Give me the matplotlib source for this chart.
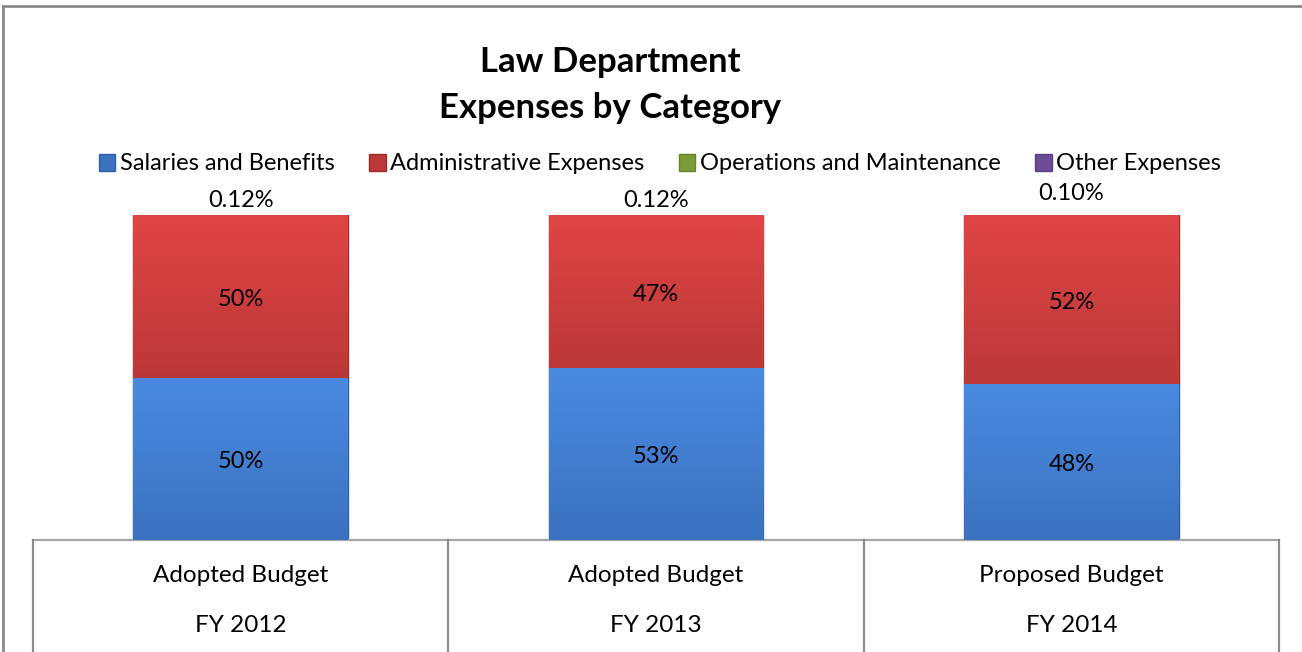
import matplotlib
matplotlib.use("Agg")
import matplotlib.pyplot as plt
import numpy as np
from matplotlib.colors import LinearSegmentedColormap
from matplotlib.lines import Line2D
from matplotlib.patches import Patch
from matplotlib.transforms import blended_transform_factory

plt.rcParams["font.family"] = ["Lato", "DejaVu Sans"]

budgets = ["Adopted Budget", "Adopted Budget", "Proposed Budget"]
years = ["FY 2012", "FY 2013", "FY 2014"]
series_names = ["Salaries and Benefits", "Administrative Expenses",
                "Operations and Maintenance", "Other Expenses"]
salaries = [49.9, 52.9, 47.9]
administrative = [49.98, 46.98, 52.0]
operations = [0.0, 0.0, 0.0]
other = [0.12, 0.12, 0.10]

# (top of gradient, bottom of gradient, edge)
colors = {
    "Salaries and Benefits": ("#4a8ae0", "#3b72c0", "#2f5f9f"),
    "Administrative Expenses": ("#e04545", "#bc3838", "#9c2c2c"),
    "Operations and Maintenance": ("#9bc04a", "#7a9c38", "#66842c"),
    "Other Expenses": ("#8a64b8", "#6c4c96", "#5a3e80"),
}

W, H = 1302, 652
fig = plt.figure(figsize=(W / 100, H / 100), dpi=100)
ax = fig.add_axes([33 / W, (H - 540) / H, (1279 - 33) / W, (540 - 215) / H])

x = np.arange(len(years))
bar_width = 0.517
bottom = np.zeros(len(years))
stacks = [salaries, administrative, operations, other]
containers = []
for name, values in zip(series_names, stacks):
    top_c, bot_c, edge_c = colors[name]
    bars = ax.bar(x, values, bar_width, bottom=bottom, color=bot_c,
                  edgecolor=edge_c, linewidth=1.0, zorder=2)
    cmap = LinearSegmentedColormap.from_list(name, [top_c, bot_c])
    for bar in bars:
        if bar.get_height() <= 0:
            continue
        x0, y0 = bar.get_x(), bar.get_y()
        x1, y1 = x0 + bar.get_width(), y0 + bar.get_height()
        grad = np.linspace(0, 1, 64).reshape(-1, 1)
        im = ax.imshow(grad, cmap=cmap, extent=(x0, x1, y0, y1), aspect="auto",
                       zorder=2.5, interpolation="bicubic")
        im.set_clip_path(bar)
    containers.append(bars)
    bottom = bottom + np.array(values)

for bars, values in zip(containers[:2], stacks[:2]):
    for bar, v in zip(bars, values):
        ax.text(bar.get_x() + bar.get_width() / 2, bar.get_y() + bar.get_height() / 2 - 0.8,
                f"{v:.0f}%", ha="center", va="center", fontsize=17, color="black", zorder=4)

other_offsets = [4.5, 4.5, 6.5]
for xi, total, v, off in zip(x, bottom, other, other_offsets):
    ax.text(xi, total + off, f"{v:.2f}%", ha="center", va="center", fontsize=17,
            clip_on=False, zorder=4)

ax.set_xlim(-0.5, 2.5)
ax.set_ylim(0, 100)
ax.axis("off")

# category table lines
trans = blended_transform_factory(ax.transData, ax.transAxes)
grid_color = "#8c8c8c"
ax.add_line(Line2D([-0.5, 2.5], [0, 0], transform=trans, color="#a6a6a6", lw=1.6, clip_on=False))
for xv in [-0.5, 0.5, 1.5, 2.5]:
    ax.add_line(Line2D([xv, xv], [0, -0.36], transform=trans, color=grid_color, lw=1.6, clip_on=False))
for xi, b, yr in zip(x, budgets, years):
    ax.text(xi, -35 / 325, b, transform=trans, ha="center", va="center", fontsize=17.5)
    ax.text(xi, -86 / 325, yr, transform=trans, ha="center", va="center", fontsize=17.5)

# title
fig.text(610 / W, 1 - 62 / H, "Law Department", ha="center", va="center",
         fontsize=25, fontweight="bold")
fig.text(610 / W, 1 - 108 / H, "Expenses by Category", ha="center", va="center",
         fontsize=25, fontweight="bold")

# legend
handles = [Patch(facecolor=colors[n][1], edgecolor=colors[n][2]) for n in series_names]
fig.legend(handles, series_names, loc="center", bbox_to_anchor=(660 / W, 1 - 164 / H),
           ncol=4, frameon=False, fontsize=17, handlelength=0.7, handleheight=0.7,
           handletextpad=0.2, columnspacing=1.45, borderpad=0)

# outer chart border
fig.add_artist(Line2D([3 / W, 1.0], [1 - 6 / H, 1 - 6 / H], transform=fig.transFigure,
                      color="#8a8a8a", lw=2))
fig.add_artist(Line2D([3 / W, 3 / W], [0, 1 - 6 / H], transform=fig.transFigure,
                      color="#8a8a8a", lw=2))

fig.savefig("out.png", dpi=100)
